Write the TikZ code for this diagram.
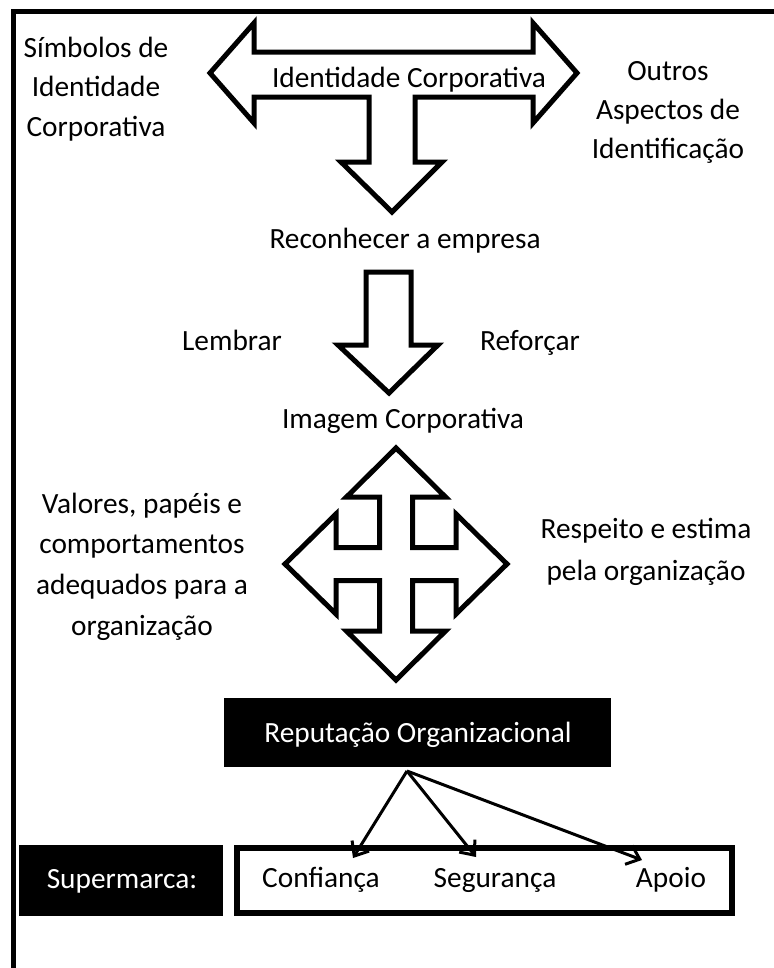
\documentclass[tikz,border=0pt]{standalone}
\usepackage{fontspec}
\setmainfont{Carlito}
\usetikzlibrary{arrows.meta}
\begin{document}
\begin{tikzpicture}[x=0.75pt,y=-0.75pt,
  txt/.style={font=\fontsize{22pt}{26pt}\selectfont, anchor=base, inner sep=0pt},
  wtxt/.style={txt, text=white},
  bigarrow/.style={draw=black, line width=3.75pt, fill=white, line join=miter, miter limit=10},
  blackbox/.style={fill=black, draw=none, inner sep=0pt},
  whitebox/.style={draw=black, fill=white, line width=4.5pt, inner sep=0pt},
  link/.style={draw=black, line width=2.25pt, -{Straight Barb[length=9pt,width=15pt,line width=2.25pt]}},
  frame/.style={draw=black, line width=3.75pt}]
\useasboundingbox (0,0) rectangle (774,968);
% frame (cropped)
\draw[frame] (13.5,968) -- (13.5,11.5) -- (774,11.5);

% top T arrow
\draw[bigarrow] (210,73) -- (254,23) -- (254,52) -- (533,52) -- (533,23) -- (577,73)
  -- (533,123) -- (533,97) -- (415,97) -- (415,162) -- (442,162) -- (392,212)
  -- (341,162) -- (369,162) -- (369,97) -- (254,97) -- (254,123) -- cycle;
\node[txt] (idc) at (409,87) {Identidade Corporativa};

\node[txt] (s1) at (96,57) {Símbolos de};
\node[txt] (s2) at (96,96.5) {Identidade};
\node[txt] (s3) at (96,136) {Corporativa};

\node[txt] (o1) at (668,80) {Outros};
\node[txt] (o2) at (668,119) {Aspectos de};
\node[txt] (o3) at (668,158) {Identificação};

\node[txt] (rec) at (405,248) {Reconhecer a empresa};

% down arrow
\draw[bigarrow] (366,272) -- (411,272) -- (411,345) -- (438,345) -- (389,393)
  -- (338,345) -- (366,345) -- cycle;
\node[txt] (lem) at (232,350) {Lembrar};
\node[txt] (ref) at (530,350) {Reforçar};

\node[txt] (img) at (403,428) {Imagem Corporativa};

% quad arrow
\draw[bigarrow] (396,448) -- (445.5,497) -- (412.5,497) -- (412.5,547.5) -- (456,547.5)
  -- (456,514) -- (507,564) -- (456,614) -- (456,580.5) -- (412.5,580.5) -- (412.5,631)
  -- (445.5,631) -- (396,680) -- (346.5,631) -- (379.5,631) -- (379.5,580.5)
  -- (336,580.5) -- (336,614) -- (285,564) -- (336,514) -- (336,547.5) -- (379.5,547.5)
  -- (379.5,497) -- (346.5,497) -- cycle;

\node[txt] (v1) at (142,513) {Valores, papéis e};
\node[txt] (v2) at (142,553) {comportamentos};
\node[txt] (v3) at (142,594) {adequados para a};
\node[txt] (v4) at (142,635) {organização};

\node[txt] (r1) at (646,538) {Respeito e estima};
\node[txt] (r2) at (646,580) {pela organização};

% reputation box
\node[blackbox, minimum width=290.25pt, minimum height=51.75pt] (repbox) at (417.5,732.5) {};
\node[wtxt] (rep) at (418,742) {Reputação Organizacional};

% bottom boxes
\node[blackbox, minimum width=153pt, minimum height=53.25pt] (supbox) at (121,880.5) {};
\node[wtxt] (sup) at (122,888) {Supermarca:};
\node[whitebox, minimum width=371.25pt, minimum height=48.75pt] (valbox) at (484.5,880.5) {};
\node[txt] (conf) at (321,887) {Confiança};
\node[txt] (seg) at (495,887) {Segurança};
\node[txt] (apo) at (671,887) {Apoio};

% connectors
\coordinate (apex) at (407,771);
\coordinate (tconf) at (353,858);
\coordinate (tseg) at (476,857);
\coordinate (tapo) at (642,860);
\draw[link] (apex) -- (tconf);
\draw[link] (apex) -- (tseg);
\draw[link] (apex) -- (tapo);
\end{tikzpicture}
\end{document}
